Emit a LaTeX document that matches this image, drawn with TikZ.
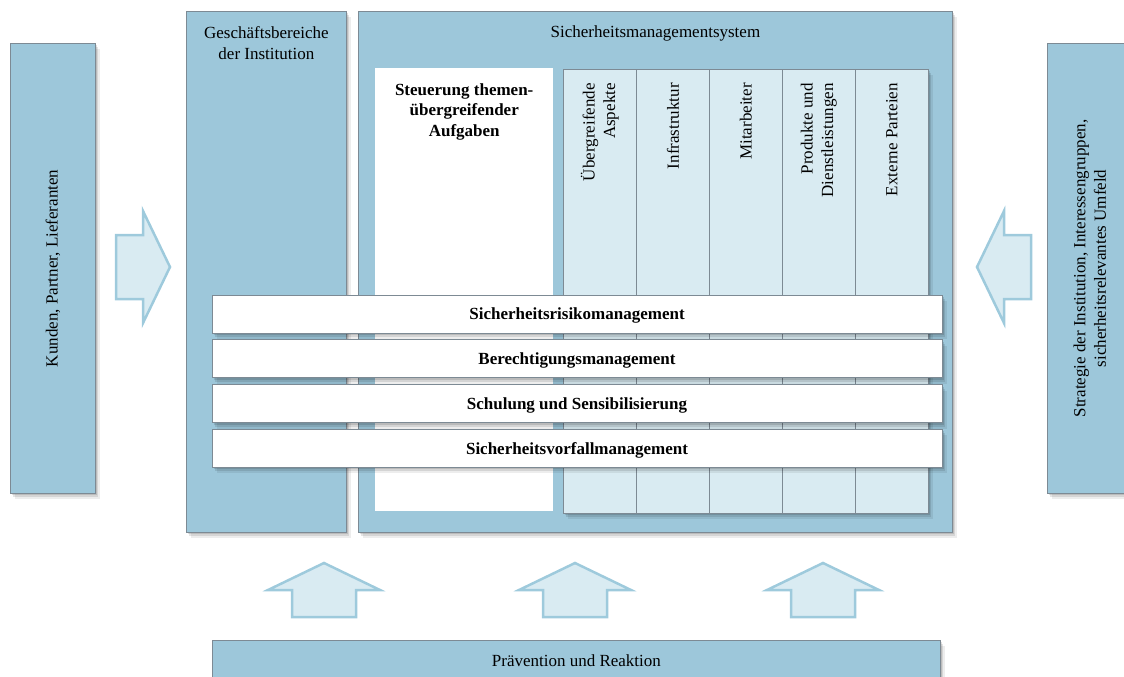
\documentclass[tikz,border=0pt]{standalone}
\usepackage{fontspec}
\setmainfont{Liberation Serif}
\usepackage{xcolor}
\usepackage{tikz}
\usetikzlibrary{positioning, shadows}

\definecolor{boxblue}{RGB}{157,199,218}
\definecolor{paleblue}{RGB}{217,235,242}
\definecolor{arrowblue}{RGB}{158,202,220}
\definecolor{edgegray}{RGB}{125,138,148}

\begin{document}
\begin{tikzpicture}[
    x=1pt, y=-1pt,
    every node/.style={font=\fontsize{17}{20.5}\selectfont},
    boldtext/.style={font=\fontsize{17}{20.5}\selectfont\bfseries},
    shadowed/.style={
        drop shadow={shadow xshift=5pt, shadow yshift=-6pt, opacity=0.07, fill=black},
        drop shadow={shadow xshift=3pt, shadow yshift=-4pt, opacity=0.1, fill=black},
        drop shadow={shadow xshift=1.5pt, shadow yshift=-2pt, opacity=0.12, fill=black}},
    darkbox/.style={rectangle, draw=edgegray, fill=boxblue, line width=0.8pt, inner sep=0pt, anchor=north west, shadowed},
    column/.style={rectangle, draw=edgegray, fill=paleblue, line width=0.8pt, inner sep=0pt, minimum width=73pt, minimum height=444pt, anchor=north west},
    bar/.style={rectangle, draw=edgegray, fill=white, line width=0.8pt, minimum width=730pt, minimum height=38pt, text depth=0pt, boldtext, shadowed},
    collabel/.style={rotate=90, anchor=east, align=right, inner sep=0pt},
    arrowline/.style={draw=arrowblue, fill=paleblue, line width=2.5pt},
    blockarrow/.pic={\draw[arrowline] (0,-27) -- (56,0) -- (32,0) -- (32,27) -- (-32,27) -- (-32,0) -- (-56,0) -- cycle;}
]

\useasboundingbox (0,0) rectangle (1124,677);
\clip (0,0) rectangle (1124,677);

\node[darkbox, minimum width=85pt, minimum height=450pt] (kunden) at (10,43) {};
\node[rotate=90] (kundentext) at (kunden.center) {Kunden, Partner, Lieferanten};

\node[darkbox, minimum width=160pt, minimum height=521pt] (gesch) at (186,11) {};
\node[align=center] (geschtext) at ([yshift=-32pt]gesch.north) {Geschäftsbereiche\\der Institution};

\node[darkbox, minimum width=594pt, minimum height=521pt] (sms) at (358,11) {};
\node (smstext) at ([yshift=-22pt]sms.north) {Sicherheitsmanagementsystem};

\node[rectangle, fill=white, inner sep=0pt, minimum width=178pt, minimum height=443pt, anchor=north west] (steuerung) at (375,68) {};
\node[align=center, boldtext] (steuerungtext) at ([yshift=-43.5pt]steuerung.north) {Steuerung themen-\\übergreifender\\Aufgaben};

\node[rectangle, fill=paleblue, inner sep=0pt, minimum width=365pt, minimum height=444pt, anchor=north west, shadowed] (columns) at (563,69) {};
\foreach \i/\lbl in {0/{Übergreifende\\Aspekte}, 1/Infrastruktur, 2/Mitarbeiter, 3/{Produkte und\\Dienstleistungen}, 4/Externe Parteien} {
    \node[column] (col\i) at (563+73*\i,69) {};
    \node[collabel] (lbl\i) at ([yshift=-14pt]col\i.north) {\lbl};
}

\node[bar] (risiko) at (577,314) {Sicherheitsrisikomanagement};
\node[bar, below=6pt of risiko] (berechtigung) {Berechtigungsmanagement};
\node[bar, below=6pt of berechtigung] (schulung) {Schulung und Sensibilisierung};
\node[bar, below=6pt of schulung] (vorfall) {Sicherheitsvorfallmanagement};

\node[darkbox, minimum width=85pt, minimum height=450pt] (umfeld) at (1047,43) {};
\node[rotate=90, align=center] (umfeldtext) at (umfeld.center) {Strategie der Institution, Interessengruppen,\\sicherheitsrelevantes Umfeld};

\node[darkbox, minimum width=728pt, minimum height=44pt] (praevention) at (212,640) {};
\node (praeventiontext) at ([yshift=-21pt]praevention.north) {Prävention und Reaktion};

\pic[rotate=-90] at (143,267) {blockarrow};
\pic[rotate=90] at (1004,267) {blockarrow};
\foreach \x in {324,575,823}
    \pic at (\x,590) {blockarrow};

\end{tikzpicture}
\end{document}
